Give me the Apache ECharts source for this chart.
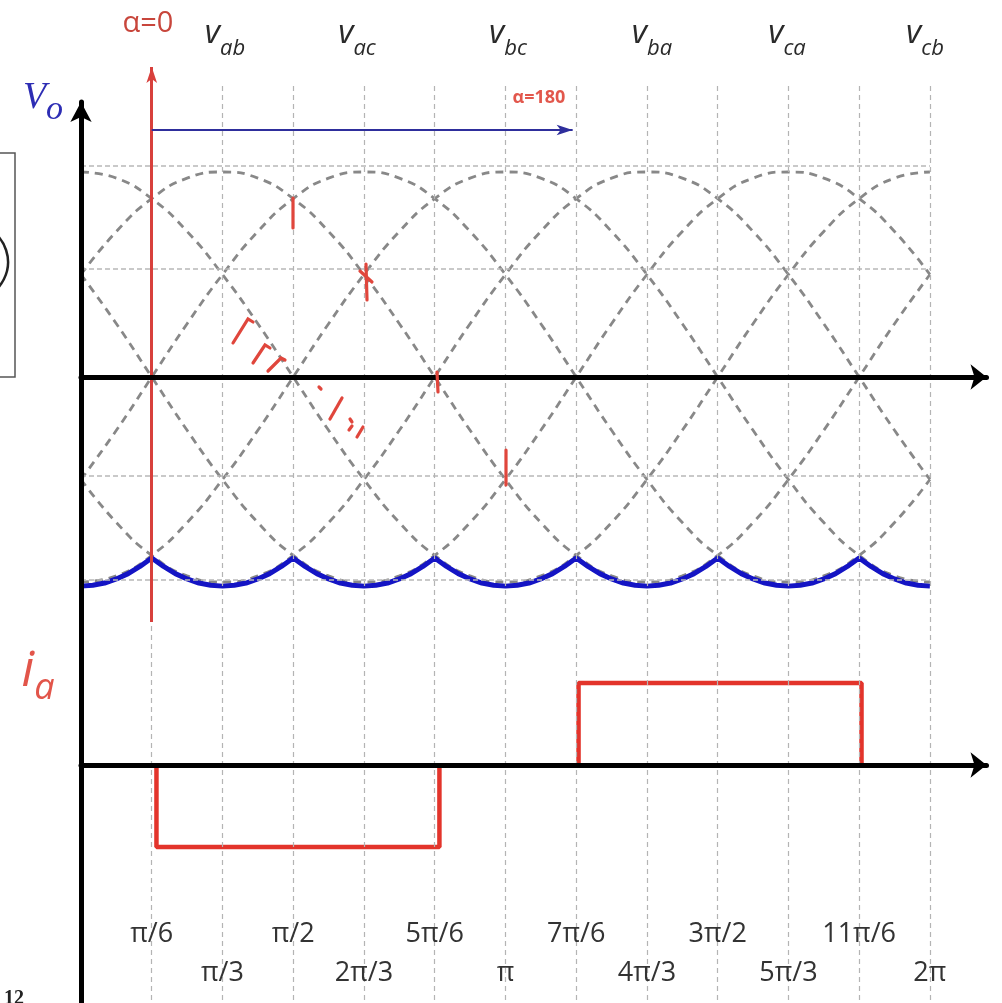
<!DOCTYPE html>
<html>
<head>
<meta charset="utf-8">
<title>Rectifier waveforms</title>
<script src="https://cdn.jsdelivr.net/npm/echarts@6/dist/echarts.min.js"></script>
<style>
  html, body { margin: 0; padding: 0; background: #fff; }
  #main { width: 1002px; height: 1003px; }
</style>
</head>
<body>
<div id="main"></div>
<script>
// angle samples (degrees) for the six line voltages
var deg15 = [0, 15, 30, 45, 60, 75, 90, 105, 120, 135, 150, 165, 180, 195, 210, 225, 240, 255, 270, 285, 300, 315, 330, 345, 360];
var vab = [0.5, 0.71, 0.87, 0.97, 1, 0.97, 0.87, 0.71, 0.5, 0.26, 0, -0.26, -0.5, -0.71, -0.87, -0.97, -1, -0.97, -0.87, -0.71, -0.5, -0.26, 0, 0.26, 0.5];
var vac = [-0.5, -0.26, 0, 0.26, 0.5, 0.71, 0.87, 0.97, 1, 0.97, 0.87, 0.71, 0.5, 0.26, 0, -0.26, -0.5, -0.71, -0.87, -0.97, -1, -0.97, -0.87, -0.71, -0.5];
var vbc = [-1, -0.97, -0.87, -0.71, -0.5, -0.26, 0, 0.26, 0.5, 0.71, 0.87, 0.97, 1, 0.97, 0.87, 0.71, 0.5, 0.26, 0, -0.26, -0.5, -0.71, -0.87, -0.97, -1];
var vba = [-0.5, -0.71, -0.87, -0.97, -1, -0.97, -0.87, -0.71, -0.5, -0.26, 0, 0.26, 0.5, 0.71, 0.87, 0.97, 1, 0.97, 0.87, 0.71, 0.5, 0.26, 0, -0.26, -0.5];
var vca = [0.5, 0.26, 0, -0.26, -0.5, -0.71, -0.87, -0.97, -1, -0.97, -0.87, -0.71, -0.5, -0.26, 0, 0.26, 0.5, 0.71, 0.87, 0.97, 1, 0.97, 0.87, 0.71, 0.5];
var vcb = [1, 0.97, 0.87, 0.71, 0.5, 0.26, 0, -0.26, -0.5, -0.71, -0.87, -0.97, -1, -0.97, -0.87, -0.71, -0.5, -0.26, 0, 0.26, 0.5, 0.71, 0.87, 0.97, 1];
var curveNames = ['ab', 'ac', 'bc', 'ba', 'ca', 'cb'];

// output voltage Vo (blue), sampled every 5 degrees
var deg5 = [0, 5, 10, 15, 20, 25, 30, 35, 40, 45, 50, 55, 60, 65, 70, 75, 80, 85, 90, 95, 100, 105, 110, 115,
  120, 125, 130, 135, 140, 145, 150, 155, 160, 165, 170, 175, 180, 185, 190, 195, 200, 205, 210, 215, 220, 225, 230, 235,
  240, 245, 250, 255, 260, 265, 270, 275, 280, 285, 290, 295, 300, 305, 310, 315, 320, 325, 330, 335, 340, 345, 350, 355, 360];
var vo = [-1.02, -1.016, -1.005, -0.985, -0.959, -0.924, -0.883, -0.924, -0.959, -0.985, -1.005, -1.016,
  -1.02, -1.016, -1.005, -0.985, -0.959, -0.924, -0.883, -0.924, -0.959, -0.985, -1.005, -1.016,
  -1.02, -1.016, -1.005, -0.985, -0.959, -0.924, -0.883, -0.924, -0.959, -0.985, -1.005, -1.016,
  -1.02, -1.016, -1.005, -0.985, -0.959, -0.924, -0.883, -0.924, -0.959, -0.985, -1.005, -1.016,
  -1.02, -1.016, -1.005, -0.985, -0.959, -0.924, -0.883, -0.924, -0.959, -0.985, -1.005, -1.016,
  -1.02, -1.016, -1.005, -0.985, -0.959, -0.924, -0.883, -0.924, -0.959, -0.985, -1.005, -1.016,
  -1.02];

// phase current ia: two pulses
var iaStart = [32, 211];
var iaEnd = [152, 331];
var iaLevel = [-1, 1];

// dotted horizontal levels in the voltage panel
var gridLevels = [1.03, 0.53, -0.48, -0.99];

// x ticks
var tickDeg = [30, 60, 90, 120, 150, 180, 210, 240, 270, 300, 330, 360];
var tickLabels = ['π/6', 'π/3', 'π/2', '2π/3', '5π/6', 'π', '7π/6', '4π/3', '3π/2', '5π/3', '11π/6', '2π'];

// firing angle annotation
var alphaStart = 30, alphaEnd = 208.5;

// layout
var X0 = 81, DEG_PX = 2.358, AXIS_Y = 377, V_PX = 205;
var FONT = "'Open Sans', 'Noto Sans', sans-serif";

function toOverlay(x, y) {
  return [(x - X0) / DEG_PX, (AXIS_Y - y) / V_PX];
}
function pairs(xs, ys) {
  return xs.map(function (x, i) { return [x, ys[i]]; });
}

var chart = echarts.init(document.getElementById('main'));

var series = [];

// dotted horizontal grid levels
series.push({
  type: 'line', xAxisIndex: 0, yAxisIndex: 0, data: [], silent: true, z: 1,
  markLine: {
    silent: true, symbol: 'none', animation: false,
    label: { show: false },
    lineStyle: { color: '#b8b8b8', width: 1.6, type: [5, 3] },
    data: gridLevels.map(function (v) { return [{ coord: [0, v] }, { coord: [360, v] }]; })
  }
});

// vertical dashed grid lines through both panels
series.push({
  type: 'line', xAxisIndex: 2, yAxisIndex: 2, data: [], silent: true, z: 1,
  markLine: {
    silent: true, symbol: 'none', animation: false,
    label: { show: false },
    lineStyle: { color: '#b4b4b4', width: 1.2, type: [5, 4] },
    data: tickDeg.map(function (d) { return [{ coord: [d, 1.42] }, { coord: [d, -3.05] }]; })
  }
});

[vab, vac, vbc, vba, vca, vcb].forEach(function (vals, i) {
  series.push({
    name: 'v' + curveNames[i], type: 'line', xAxisIndex: 0, yAxisIndex: 0,
    data: pairs(deg15, vals), smooth: true, symbol: 'none', silent: true, z: 2,
    lineStyle: { color: '#888', width: 2.8, type: [8, 6] }
  });
});

series.push({
  name: 'Vo', type: 'line', xAxisIndex: 0, yAxisIndex: 0,
  data: pairs(deg5, vo), symbol: 'none', silent: true, z: 3,
  lineStyle: { color: '#1414c4', width: 5, join: 'round' }
});

iaStart.forEach(function (s, i) {
  series.push({
    name: 'ia', type: 'line', xAxisIndex: 1, yAxisIndex: 1, symbol: 'none', silent: true, z: 3,
    data: [[s, 0], [s, iaLevel[i]], [iaEnd[i], iaLevel[i]], [iaEnd[i], 0]],
    lineStyle: { color: '#e3342b', width: 4.5 }
  });
});

// text annotations
var vRich = {
  v: { fontFamily: FONT, fontStyle: 'italic', fontSize: 33, color: '#2a2a2a', lineHeight: 36, verticalAlign: 'top' },
  s: { fontFamily: FONT, fontStyle: 'italic', fontSize: 22, color: '#2a2a2a', lineHeight: 22, padding: [20, 0, 0, 0], verticalAlign: 'top' }
};
var curveLabelX = [225, 357, 508, 652, 787, 925];
var notes = curveNames.map(function (n, i) {
  return { coord: toOverlay(curveLabelX[i], 35.5), label: { formatter: '{v|v}{s|' + n + '}', rich: vRich } };
});
// x tick labels, staggered in two rows
tickDeg.forEach(function (d, i) {
  notes.push({
    coord: [d, toOverlay(0, i % 2 === 0 ? 934 : 973)[1]],
    label: { formatter: tickLabels[i], fontFamily: FONT, fontSize: 27, color: '#333' }
  });
});
notes.push({ coord: toOverlay(148, 24), label: { formatter: 'α=0', fontFamily: FONT, fontSize: 29, color: '#c8463c' } });
notes.push({ coord: toOverlay(539, 98), label: { formatter: 'α=180', fontFamily: FONT, fontSize: 18, fontWeight: 'bold', color: '#e2574c' } });
notes.push({
  coord: toOverlay(43, 99),
  label: {
    formatter: '{V|V}{o|o}',
    rich: {
      V: { fontFamily: "'Liberation Serif', serif", fontStyle: 'italic', fontSize: 38, color: '#2d2db4', lineHeight: 40, verticalAlign: 'top' },
      o: { fontFamily: "'Liberation Serif', serif", fontStyle: 'italic', fontSize: 34, color: '#2d2db4', lineHeight: 34, padding: [14, 0, 0, 0], verticalAlign: 'top' }
    }
  }
});
notes.push({
  coord: toOverlay(38, 673),
  label: {
    formatter: '{i|i}{a|a}',
    rich: {
      i: { fontFamily: FONT, fontStyle: 'italic', fontSize: 50, color: '#e2554a', lineHeight: 52, verticalAlign: 'top' },
      a: { fontFamily: FONT, fontStyle: 'italic', fontSize: 36, color: '#e2554a', lineHeight: 36, padding: [24, 0, 0, 0], verticalAlign: 'top' }
    }
  }
});

series.push({
  type: 'line', xAxisIndex: 2, yAxisIndex: 2, data: [], silent: true, z: 6,
  markLine: {
    silent: true, animation: false,
    symbol: ['none', 'arrow'],
    label: { show: false },
    data: [
      [{ coord: [alphaStart, -1.195], lineStyle: { color: '#d8403c', width: 3, type: 'solid' }, symbolSize: [11, 13] },
       { coord: [alphaStart, 1.512] }],
      [{ coord: [alphaStart, 1.205], lineStyle: { color: '#2e2e9c', width: 2, type: 'solid' }, symbolSize: [12, 13] },
       { coord: [alphaEnd, 1.205] }]
    ]
  },
  markPoint: {
    silent: true, animation: false,
    symbol: 'circle', symbolSize: 1,
    itemStyle: { color: 'rgba(0,0,0,0)' },
    label: { show: true, position: 'inside' },
    data: notes
  }
});

// hand-drawn red marks and cropped page edges
var scribbles = [
  [[293, 198], [293, 228]],
  [[366, 264], [367, 300]], [[360, 271], [372, 282]],
  [[233, 343], [248, 319], [253, 322]],
  [[253, 363], [265, 345], [270, 348]],
  [[268, 371], [281, 358], [285, 360]],
  [[319, 387], [321, 389]],
  [[330, 419], [342, 398]],
  [[350, 419], [352, 422]], [[349, 430], [352, 426]],
  [[357, 437], [363, 427]],
  [[437, 372], [438, 392]],
  [[506, 450], [506, 485]]
];
var graphics = scribbles.map(function (pts) {
  return { type: 'polyline', silent: true, z: 20, shape: { points: pts },
    style: { stroke: '#e0463c', lineWidth: 3.2, lineCap: 'round', fill: null } };
});
graphics.push({ type: 'rect', silent: true, shape: { x: -3, y: 153, width: 18, height: 224 },
  style: { stroke: '#555', lineWidth: 1.5, fill: null } });
graphics.push({ type: 'arc', silent: true, shape: { cx: -30, cy: 262, r: 38, startAngle: -1.1, endAngle: 1.1 },
  style: { stroke: '#222', lineWidth: 2.5, fill: null } });
graphics.push({ type: 'text', silent: true, x: 4, y: 989,
  style: { text: '12', font: "bold 20px 'Liberation Serif', serif", fill: '#222' } });

var axisLine = { show: true, onZero: true, lineStyle: { color: '#000', width: 5 } };

var option = {
  animation: false,
  backgroundColor: '#fff',
  grid: [
    { left: X0, right: 15.5, top: 102, height: 520, outerBoundsMode: 'none' },
    { left: X0, right: 15.5, top: 622, height: 381, outerBoundsMode: 'none' },
    { left: 0, right: 0, top: 0, bottom: 0, outerBoundsMode: 'none' }
  ],
  xAxis: [
    { gridIndex: 0, type: 'value', min: 0, max: 384, interval: 30, z: 5,
      axisLine: Object.assign({}, axisLine, { symbol: ['none', 'arrow'], symbolSize: [19, 16] }),
      axisTick: { show: false }, axisLabel: { show: false }, splitLine: { show: false } },
    { gridIndex: 1, type: 'value', min: 0, max: 384, interval: 30, z: 5,
      axisLine: Object.assign({}, axisLine, { symbol: ['none', 'arrow'], symbolSize: [19, 16] }),
      axisTick: { show: false }, axisLabel: { show: false }, splitLine: { show: false } },
    { gridIndex: 2, type: 'value', min: -X0 / DEG_PX, max: (1002 - X0) / DEG_PX, show: false }
  ],
  yAxis: [
    { gridIndex: 0, type: 'value', min: -1.195, max: 1.3415, z: 5,
      axisLine: Object.assign({}, axisLine, { symbol: ['none', 'arrow'], symbolSize: [16, 20] }),
      axisTick: { show: false }, axisLabel: { show: false }, splitLine: { show: false } },
    { gridIndex: 1, type: 'value', min: -2.902, max: 1.744, z: 5,
      axisLine: axisLine,
      axisTick: { show: false }, axisLabel: { show: false }, splitLine: { show: false } },
    { gridIndex: 2, type: 'value', min: -(1003 - AXIS_Y) / V_PX, max: AXIS_Y / V_PX, show: false }
  ],
  graphic: graphics,
  series: series
};

chart.setOption(option);
</script>
</body>
</html>
